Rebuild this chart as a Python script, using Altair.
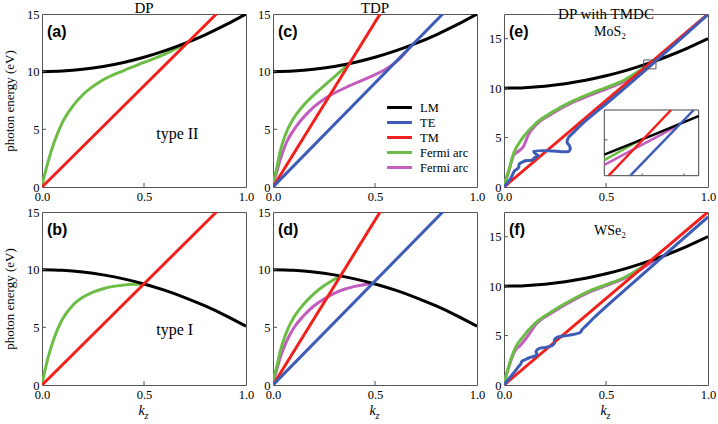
import altair as alt
import pandas as pd

# ---------------- data ----------------
K_LM = [0.0, 0.1, 0.2, 0.3, 0.4, 0.5, 0.6, 0.7, 0.8, 0.9, 1.0]
E_LM_RISE = [10.0, 10.05, 10.2, 10.45, 10.8, 11.25, 11.8, 12.45, 13.2, 14.05, 15.0]
E_LM_FALL = [10.0, 9.95, 9.8, 9.55, 9.2, 8.76, 8.22, 7.58, 6.85, 6.02, 5.1]

K_TM_DP, E_TM_DP = [0.0, 0.855], [0.0, 15.0]
K_TM_TDP, E_TM_TDP = [0.0, 0.525], [0.0, 15.0]
K_TE_TDP, E_TE_TDP = [0.0, 0.832], [0.0, 15.0]
K_TM_2D, E_TM_2D = [0.0, 1.0], [0.0, 17.5]

# (a) DP type II
K_FA_A = [0, 0.005, 0.015, 0.03, 0.06, 0.1, 0.15, 0.2, 0.3, 0.4, 0.5, 0.6, 0.715]
E_FA_A = [0, 0.5, 1.2, 2.2, 3.9, 5.6, 7.0, 8.0, 9.3, 10.1, 10.8, 11.5, 12.55]
# (b) DP type I
K_FA_B = [0, 0.005, 0.015, 0.03, 0.06, 0.1, 0.15, 0.2, 0.25, 0.3, 0.35, 0.4, 0.45, 0.5]
E_FA_B = [0, 0.5, 1.3, 2.4, 4.1, 5.7, 6.9, 7.6, 8.05, 8.35, 8.55, 8.66, 8.73, 8.76]
# (c) TDP type II
K_FA1_C = [0, 0.005, 0.018, 0.034, 0.059, 0.099, 0.148, 0.213, 0.278, 0.335, 0.376]
E_FA1_C = [0, 0.6, 1.6, 3.0, 4.45, 5.9, 7.05, 8.2, 9.2, 10.1, 10.72]
K_FA2_C = [0, 0.005, 0.018, 0.034, 0.067, 0.116, 0.18, 0.262, 0.36, 0.47, 0.56, 0.62, 0.68]
E_FA2_C = [0, 0.45, 1.27, 2.3, 3.9, 5.3, 6.6, 7.75, 8.65, 9.5, 10.3, 11.1, 12.3]
# (d) TDP type I
K_FA1_D = [0, 0.005, 0.02, 0.035, 0.06, 0.1, 0.15, 0.2, 0.25, 0.3, 0.33]
E_FA1_D = [0, 0.6, 1.7, 2.9, 4.3, 5.8, 7.0, 7.9, 8.6, 9.15, 9.45]
K_FA2_D = [0, 0.005, 0.018, 0.034, 0.067, 0.1, 0.15, 0.2, 0.25, 0.3, 0.35, 0.4, 0.45, 0.488]
E_FA2_D = [0, 0.45, 1.3, 2.3, 3.8, 4.9, 6.0, 6.85, 7.45, 7.95, 8.3, 8.55, 8.72, 8.8]
# (e) DP with MoS2
K_FA1_E = [0, 0.005, 0.023, 0.047, 0.088, 0.153, 0.235, 0.341, 0.423, 0.5, 0.587, 0.66, 0.719]
E_FA1_E = [0, 0.45, 1.65, 3.4, 4.86, 6.37, 7.55, 8.73, 9.45, 10.05, 10.8, 11.7, 12.58]
K_FA2_E = [0, 0.005, 0.023, 0.047, 0.07, 0.095, 0.12, 0.153, 0.235, 0.341, 0.423, 0.5, 0.587, 0.66, 0.719, 0.738]
E_FA2_E = [0, 0.42, 1.55, 3.2, 3.6, 4.1, 5.3, 6.2, 7.4, 8.6, 9.3, 9.9, 10.65, 11.5, 12.35, 12.63]
K_TE_E = [0, 0.031, 0.052, 0.064, 0.072, 0.075, 0.088, 0.104, 0.137, 0.153, 0.167, 0.15, 0.146,
          0.219, 0.317, 0.325, 0.32, 0.309, 0.317, 0.341, 0.382, 0.529, 0.7144, 1.0]
E_TE_E = [0, 0.81, 1.65, 1.82, 2.0, 2.33, 2.5, 2.66, 2.73, 3.0, 3.17, 3.45, 3.6,
          3.67, 3.6, 3.84, 4.2, 4.52, 5.03, 5.53, 6.37, 8.9, 12.2, 17.45]
# (f) DP with WSe2
K_FA1_F = [0, 0.005, 0.023, 0.055, 0.088, 0.153, 0.235, 0.333, 0.423, 0.5, 0.587, 0.66, 0.719]
E_FA1_F = [0, 0.5, 1.89, 3.74, 4.75, 6.26, 7.44, 8.62, 9.55, 10.15, 10.85, 11.7, 12.58]
K_FA2_F = [0, 0.005, 0.023, 0.055, 0.08, 0.1, 0.125, 0.153, 0.235, 0.333, 0.423, 0.5, 0.587, 0.66, 0.719, 0.775]
E_FA2_F = [0, 0.47, 1.8, 3.5, 4.0, 4.5, 5.2, 6.05, 7.3, 8.5, 9.45, 10.05, 10.75, 11.55, 12.35, 12.98]
K_TE_F = [0, 0.047, 0.064, 0.072, 0.080, 0.088, 0.104, 0.121, 0.146, 0.162, 0.157, 0.17, 0.203,
          0.235, 0.248, 0.247, 0.26, 0.317, 0.374, 0.382, 0.399, 0.431, 0.529, 1.0]
E_TE_F = [0, 1.21, 1.65, 1.89, 2.05, 2.39, 2.56, 2.73, 2.9, 3.06, 3.4, 3.67, 3.8,
          3.97, 4.24, 4.58, 4.82, 5.02, 5.32, 5.59, 5.93, 6.6, 8.45, 17.0]
# inset of (e): zoom around the crossing point
K_IN_LM, E_IN_LM = [0.702, 0.7245, 0.747], [12.376, 12.536, 12.70]
K_IN_TM, E_IN_TM = [0.7041, 0.7338], [12.2, 12.75]
K_IN_TE, E_IN_TE = [0.7144, 0.7446], [12.2, 12.75]
K_IN_FA1, E_IN_FA1 = [0.702, 0.720], [12.33, 12.507]
K_IN_FA2, E_IN_FA2 = [0.702, 0.738], [12.29, 12.627]
IN_K_DOMAIN, IN_E_DOMAIN = [0.702, 0.747], [12.2, 12.75]
IN_K_TICKS, IN_E_TICKS = [0.72, 0.74], [12.5]
BOX_K, BOX_E = [0.685, 0.745], [11.95, 12.85]

SERIES = ["LM", "TE", "TM", "Fermi arc", "Fermi arc 2"]
COLORS = ["#000000", "#3d5cb8", "#f2201d", "#6cbd45", "#c25cbf"]
WIGGLY = {"TE"}

# ---------------- style ----------------
W, H = 204, 173
SERIF = "Liberation Serif"
color_scale = alt.Scale(domain=SERIES, range=COLORS)
legend_obj = alt.Legend(
    title=None, orient="none", legendX=349, legendY=85, symbolType="M-1.85,0H1.85",
    symbolStrokeWidth=3, symbolSize=180, labelFont=SERIF, labelFontSize=12.5,
    labelColor="black", rowPadding=0, labelOffset=12, padding=0, labelBaseline="middle",
    labelExpr="datum.label == 'Fermi arc 2' ? 'Fermi arc' : datum.label")


def sdf(name, ks, es):
    return pd.DataFrame({"k": ks, "E": es, "s": name, "i": list(range(len(ks)))})


def panel(series, ymax, yticks, label, title=None, ytitle=None, xtitle=False,
          notes=(), inset=False):
    xs = alt.Scale(domain=[0, 1], nice=False, zero=False)
    ys = alt.Scale(domain=[0, ymax], nice=False)
    xaxis = alt.Axis(values=[0, 0.5, 1], format=".1f", title="k" if xtitle else None,
                     titleFontStyle="italic", titleFontSize=14, titlePadding=3,
                     titleX=W / 2 - 3)
    yaxis = alt.Axis(values=yticks, title=ytitle, titlePadding=10)
    layers = []
    for (name, ks, es) in series:
        interp = "catmull-rom" if (name in WIGGLY and len(ks) > 2) else "monotone"
        layers.append(
            alt.Chart(sdf(name, ks, es)).mark_line(strokeWidth=3, clip=True,
                                                   interpolate=interp).encode(
                x=alt.X("k:Q", scale=xs, axis=xaxis),
                y=alt.Y("E:Q", scale=ys, axis=yaxis),
                color=alt.Color("s:N", scale=color_scale, legend=legend_obj),
                order="i:Q"))
    # inward tick marks
    layers.append(alt.Chart(pd.DataFrame({"k": [0.5]})).mark_rule(color="#555", strokeWidth=1).encode(
        x="k:Q", y=alt.value(H), y2=alt.value(H - 4)))
    layers.append(alt.Chart(pd.DataFrame({"E": [t for t in yticks if 0 < t < ymax]})).mark_rule(
        color="#555", strokeWidth=1).encode(y="E:Q", x=alt.value(0), x2=alt.value(4)))
    # panel label
    layers.append(alt.Chart(pd.DataFrame({"t": [label]})).mark_text(
        font="Liberation Sans", fontWeight="bold", fontSize=16, align="left", baseline="middle").encode(
        text="t:N", x=alt.value(5), y=alt.value(18)))
    for (txt, k, e, size, align) in notes:
        layers.append(alt.Chart(pd.DataFrame({"t": [txt], "k": [k], "E": [e]})).mark_text(
            font=SERIF, fontSize=size, align=align, baseline="middle").encode(
            text="t:N", x="k:Q", y="E:Q"))
    if xtitle:
        layers.append(alt.Chart(pd.DataFrame({"t": ["z"]})).mark_text(
            font=SERIF, fontStyle="italic", fontSize=10, align="left", baseline="middle").encode(
            text="t:N", x=alt.value(W / 2 + 0.5), y=alt.value(H + 31)))
    if inset:
        layers.append(alt.Chart(pd.DataFrame({"k": [BOX_K[0]], "k2": [BOX_K[1]], "E": [BOX_E[0]], "E2": [BOX_E[1]]}))
                      .mark_rect(fillOpacity=0, stroke="#555", strokeWidth=1).encode(
            x="k:Q", x2="k2:Q", y="E:Q", y2="E2:Q"))
    main = alt.layer(*layers)
    if inset:
        ixs = alt.Scale(domain=IN_K_DOMAIN, range=[100.3, 194.7], nice=False, zero=False)
        iys = alt.Scale(domain=IN_E_DOMAIN, range=[161.7, 96], nice=False, zero=False)
        il = [alt.Chart(pd.DataFrame({"k": [IN_K_DOMAIN[0]], "k2": [IN_K_DOMAIN[1]],
                                      "E": [IN_E_DOMAIN[0]], "E2": [IN_E_DOMAIN[1]]}))
              .mark_rect(fill="white", stroke="#444", strokeWidth=1).encode(
                  x=alt.X("k:Q", scale=ixs, axis=None), x2="k2:Q",
                  y=alt.Y("E:Q", scale=iys, axis=None), y2="E2:Q")]
        for name, ks, es in [("Fermi arc 2", K_IN_FA2, E_IN_FA2), ("Fermi arc", K_IN_FA1, E_IN_FA1),
                             ("LM", K_IN_LM, E_IN_LM), ("TM", K_IN_TM, E_IN_TM), ("TE", K_IN_TE, E_IN_TE)]:
            il.append(alt.Chart(sdf(name, ks, es)).mark_line(strokeWidth=2.5, interpolate="monotone").encode(
                x=alt.X("k:Q", scale=ixs, axis=None), y=alt.Y("E:Q", scale=iys, axis=None),
                color=alt.Color("s:N", scale=color_scale, legend=legend_obj), order="i:Q"))
        il.append(alt.Chart(pd.DataFrame({"k": IN_K_TICKS, "E": [IN_E_DOMAIN[0]] * 2,
                                          "E2": [IN_E_DOMAIN[0] + 0.02] * 2})).mark_rule(color="#555").encode(
            x=alt.X("k:Q", scale=ixs, axis=None), y=alt.Y("E:Q", scale=iys, axis=None), y2="E2:Q"))
        il.append(alt.Chart(pd.DataFrame({"E": IN_E_TICKS, "k": [IN_K_DOMAIN[0]],
                                          "k2": [IN_K_DOMAIN[0] + 0.0015]})).mark_rule(color="#555").encode(
            x=alt.X("k:Q", scale=ixs, axis=None), x2="k2:Q", y=alt.Y("E:Q", scale=iys, axis=None)))
        main = alt.layer(main, alt.layer(*il)).resolve_scale(x="independent", y="independent")
    props = dict(width=W, height=H)
    if title:
        props["title"] = alt.TitleParams(title, font=SERIF, fontSize=15, fontWeight="normal",
                                         offset=-8, color="black")
    return main.properties(**props)


pa = panel([("Fermi arc", K_FA_A, E_FA_A), ("LM", K_LM, E_LM_RISE), ("TM", K_TM_DP, E_TM_DP)],
           15, [0, 5, 10, 15], "(a)", title="DP", ytitle="photon energy (eV)",
           notes=[("type II", 0.56, 4.6, 16, "left")])
pb = panel([("Fermi arc", K_FA_B, E_FA_B), ("LM", K_LM, E_LM_FALL), ("TM", K_TM_DP, E_TM_DP)],
           15, [0, 5, 10, 15], "(b)", ytitle="photon energy (eV)", xtitle=True,
           notes=[("type I", 0.56, 4.75, 16, "left")])
pc = panel([("Fermi arc 2", K_FA2_C, E_FA2_C), ("Fermi arc", K_FA1_C, E_FA1_C), ("LM", K_LM, E_LM_RISE),
            ("TM", K_TM_TDP, E_TM_TDP), ("TE", K_TE_TDP, E_TE_TDP)],
           15, [0, 5, 10, 15], "(c)", title="TDP")
pd_ = panel([("Fermi arc 2", K_FA2_D, E_FA2_D), ("Fermi arc", K_FA1_D, E_FA1_D), ("LM", K_LM, E_LM_FALL),
             ("TM", K_TM_TDP, E_TM_TDP), ("TE", K_TE_TDP, E_TE_TDP)],
            15, [0, 5, 10, 15], "(d)", xtitle=True)
pe = panel([("Fermi arc 2", K_FA2_E, E_FA2_E), ("Fermi arc", K_FA1_E, E_FA1_E), ("LM", K_LM, E_LM_RISE),
            ("TM", K_TM_2D, E_TM_2D), ("TE", K_TE_E, E_TE_E)],
           17.5, [0, 5, 10, 15], "(e)", title="DP with TMDC",
           notes=[("MoS₂", 0.52, 15.7, 14, "center")], inset=True)
pf = panel([("Fermi arc 2", K_FA2_F, E_FA2_F), ("Fermi arc", K_FA1_F, E_FA1_F), ("LM", K_LM, E_LM_RISE),
            ("TM", K_TM_2D, E_TM_2D), ("TE", K_TE_F, E_TE_F)],
           17.5, [0, 5, 10, 15], "(f)", xtitle=True,
           notes=[("WSe₂", 0.52, 15.55, 14, "center")])

chart = alt.concat(pa, pc, pe, pb, pd_, pf, columns=3,
                   spacing={"row": 25, "column": 27}, bounds="flush")

chart = chart.properties(
    padding={"left": 3, "top": 0, "right": 0, "bottom": 0}, background="white"
).configure_view(stroke="#555", strokeWidth=1).configure_axis(
    labelFont=SERIF, labelFontSize=12.5, labelColor="black", labelPadding=3,
    titleFont=SERIF, titleFontSize=13, titleFontWeight="normal", titleColor="black",
    ticks=False, domain=False, grid=False, labelFlush=False
)

chart.save("out.html", embed_options={"renderer": "svg", "actions": False})
